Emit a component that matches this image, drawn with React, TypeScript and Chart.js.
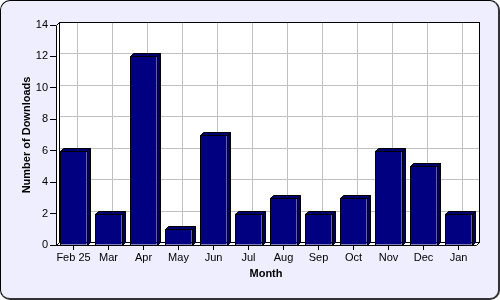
import React, { useEffect, useRef } from "react";
import { Chart, registerables } from "chart.js";

Chart.register(...registerables);

const months = ["Feb 25", "Mar", "Apr", "May", "Jun", "Jul", "Aug", "Sep", "Oct", "Nov", "Dec", "Jan"];
const downloads = [6, 2, 12, 1, 7, 2, 3, 2, 3, 6, 5, 2];
const yMin = 0;
const yMax = 14;
const yStep = 2;
const xTitle = "Month";
const yTitle = "Number of Downloads";

const DEPTH = 3;
const FONT = "'Liberation Sans', Arial, sans-serif";

const threeD = {
  id: "threeD",
  beforeDatasetsDraw(chart: any) {
    const { ctx, chartArea, scales } = chart;
    const L = Math.round(chartArea.left) + 0.5;
    const R = Math.round(chartArea.right) + 0.5;
    const T = Math.round(chartArea.top) + 0.5;
    const B = Math.round(chartArea.bottom) + 0.5;
    const d = DEPTH;
    ctx.save();
    ctx.fillStyle = "#ffffff";
    ctx.fillRect(L + d, T - d, R - L, B - T);
    ctx.strokeStyle = "#c0c0c0";
    ctx.lineWidth = 1;
    ctx.beginPath();
    for (let v = yMin; v <= yMax; v += yStep) {
      const y = Math.round(scales.y.getPixelForValue(v)) - d + 0.5;
      ctx.moveTo(L + d, y);
      ctx.lineTo(R + d, y);
    }
    for (let i = 0; i < months.length; i++) {
      const x = Math.round(scales.x.getPixelForValue(i)) + d + 0.5;
      ctx.moveTo(x, T - d);
      ctx.lineTo(x, B - d);
    }
    ctx.stroke();
    ctx.strokeStyle = "#000000";
    ctx.strokeRect(L + d, T - d, R - L, B - T);
    ctx.beginPath();
    ctx.moveTo(L, T);
    ctx.lineTo(L + d, T - d);
    ctx.lineTo(L + d, B - d);
    ctx.lineTo(L, B);
    ctx.closePath();
    ctx.fillStyle = "#ffffff";
    ctx.fill();
    ctx.stroke();
    ctx.beginPath();
    ctx.moveTo(L, B);
    ctx.lineTo(L + d, B - d);
    ctx.lineTo(R + d, B - d);
    ctx.lineTo(R, B);
    ctx.closePath();
    ctx.fill();
    ctx.stroke();
    ctx.restore();
  },
  afterDatasetsDraw(chart: any) {
    const { ctx } = chart;
    const d = DEPTH;
    const meta = chart.getDatasetMeta(0);
    ctx.save();
    ctx.strokeStyle = "#000000";
    ctx.lineWidth = 1;
    meta.data.forEach((bar: any) => {
      const left = Math.round(bar.x - bar.width / 2) + 0.5;
      const right = Math.round(bar.x + bar.width / 2) + 0.5;
      const top = Math.round(bar.y) + 0.5;
      const base = Math.round(bar.base) + 0.5;
      ctx.beginPath();
      ctx.moveTo(left, top);
      ctx.lineTo(left + d, top - d);
      ctx.lineTo(right + d, top - d);
      ctx.lineTo(right, top);
      ctx.closePath();
      ctx.fillStyle = "#000070";
      ctx.fill();
      ctx.stroke();
      ctx.beginPath();
      ctx.moveTo(right, top);
      ctx.lineTo(right + d, top - d);
      ctx.lineTo(right + d, base - d);
      ctx.lineTo(right, base);
      ctx.closePath();
      ctx.fillStyle = "#000050";
      ctx.fill();
      ctx.stroke();
      ctx.strokeRect(left, top, right - left, base - top);
    });
    ctx.restore();
  },
};

export default function App() {
  const ref = useRef<HTMLCanvasElement | null>(null);
  useEffect(() => {
    if (!ref.current) return;
    const chart = new Chart(ref.current, {
      type: "bar",
      data: {
        labels: months,
        datasets: [
          {
            data: downloads,
            backgroundColor: "#000080",
            borderColor: "#000000",
            borderWidth: 0,
            categoryPercentage: 1,
            barPercentage: 0.75,
          },
        ],
      },
      options: {
        responsive: false,
        animation: false,
        devicePixelRatio: 1,
        layout: { padding: { top: 25, right: 24, left: 0, bottom: 0 } },
        plugins: { legend: { display: false }, tooltip: { enabled: false } },
        scales: {
          x: {
            afterFit: (s: any) => {
              s.height = 55;
            },
            grid: {
              drawOnChartArea: false,
              offset: false,
              tickLength: 5,
              tickColor: "#000000",
              color: "#000000",
            },
            border: { display: false },
            ticks: { color: "#000000", font: { family: FONT, size: 11 }, padding: 1, maxRotation: 0, autoSkip: false },
            title: {
              display: true,
              text: xTitle,
              color: "#000000",
              font: { family: FONT, size: 11, weight: "bold" },
              padding: { top: 0, bottom: 19 },
            },
          },
          y: {
            min: yMin,
            max: yMax,
            afterFit: (s: any) => {
              s.width = 56;
            },
            grid: {
              drawOnChartArea: false,
              tickLength: 6,
              tickColor: "#000000",
              color: "#000000",
            },
            border: { display: false },
            ticks: { stepSize: yStep, color: "#000000", font: { family: FONT, size: 11 }, padding: 2 },
            title: {
              display: true,
              text: yTitle,
              color: "#000000",
              font: { family: FONT, size: 11, weight: "bold" },
              padding: { top: 20, bottom: 0 },
            },
          },
        },
      },
      plugins: [threeD],
    });
    return () => chart.destroy();
  }, []);
  return (
    <div style={{ position: "fixed", left: 0, top: 0, width: 500, height: 300 }}>
      <div
        style={{
          position: "absolute",
          left: 0,
          top: 0,
          width: 500,
          height: 300,
          boxSizing: "border-box",
          background: "#eeeeff",
          borderTop: "1px solid #000",
          borderLeft: "1px solid #000",
          borderRight: "2px solid #333",
          borderBottom: "2px solid #333",
          borderRadius: 10,
        }}
      />
      <canvas ref={ref} width={500} height={300} style={{ position: "absolute", left: 0, top: 0 }} />
    </div>
  );
}
